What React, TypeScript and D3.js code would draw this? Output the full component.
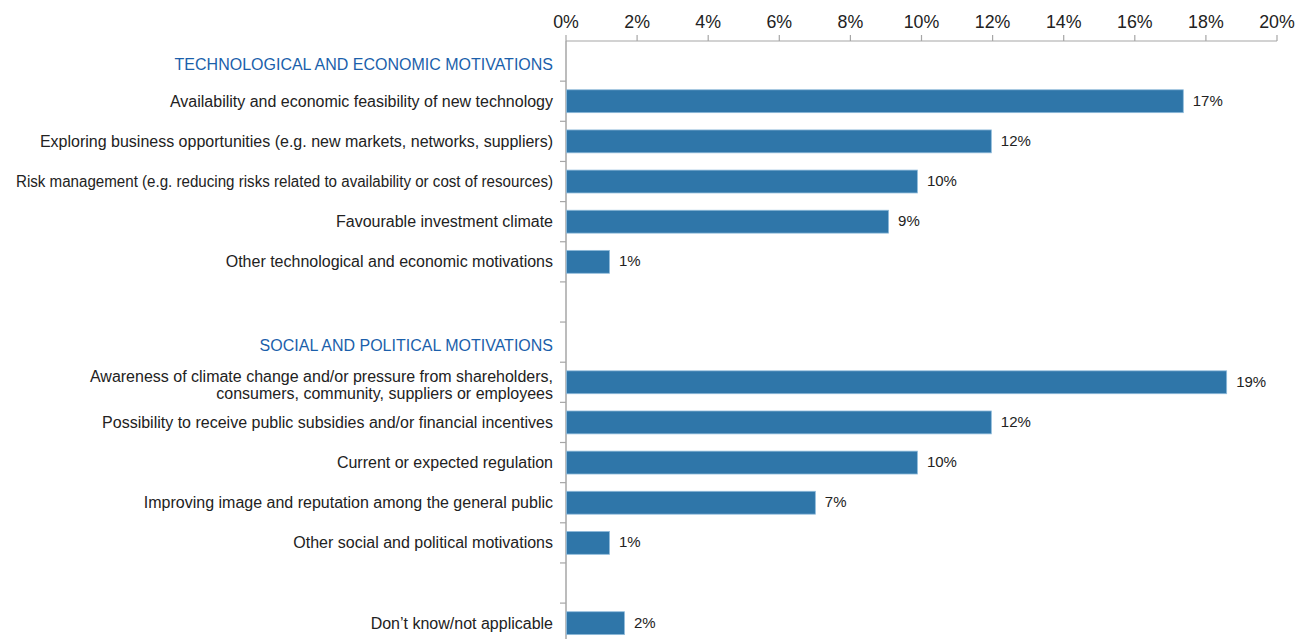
import React from "react";
import * as d3 from "d3";

const categories: string[] = [
  "TECHNOLOGICAL AND ECONOMIC MOTIVATIONS",
  "Availability and economic feasibility of new technology",
  "Exploring business opportunities (e.g. new markets, networks, suppliers)",
  "Risk management (e.g. reducing risks related to availability or cost of resources)",
  "Favourable investment climate",
  "Other technological and economic motivations",
  "gap1",
  "SOCIAL AND POLITICAL MOTIVATIONS",
  "Awareness of climate change and/or pressure from shareholders,\nconsumers, community, suppliers or employees",
  "Possibility to receive public subsidies and/or financial incentives",
  "Current or expected regulation",
  "Improving image and reputation among the general public",
  "Other social and political motivations",
  "gap2",
  "Don\u2019t know/not applicable",
];

const headers: string[] = [
  "TECHNOLOGICAL AND ECONOMIC MOTIVATIONS",
  "SOCIAL AND POLITICAL MOTIVATIONS",
];

const values: (number | null)[] = [
  null, 17.35, 11.95, 9.87, 9.06, 1.21, null, null, 18.57, 11.95, 9.87, 7.0, 1.21, null, 1.63,
];

const valueLabels: (string | null)[] = [
  null, "17%", "12%", "10%", "9%", "1%", null, null, "19%", "12%", "10%", "7%", "1%", null, "2%",
];

const xTicks: number[] = [0, 2, 4, 6, 8, 10, 12, 14, 16, 18, 20];

const W = 1303;
const H = 639;
const left = 566;
const right = 1277;
const top = 41;
const step = 40.15;

export default function App() {
  const x = d3.scaleLinear().domain([0, 20]).range([left, right]);
  const y = d3
    .scaleBand<string>()
    .domain(categories)
    .range([top, top + step * categories.length])
    .paddingInner(0.43)
    .paddingOuter(0.215);
  const band = d3.scaleBand<string>().domain(categories).range([top, top + step * categories.length]);
  const font = "'Liberation Sans', Arial, sans-serif";
  const axisColor = "#a6a6a6";

  return (
    <svg
      width={W}
      height={H}
      style={{ position: "absolute", left: 0, top: 0, background: "#fff" }}
      fontFamily={font}
    >
      {/* top axis */}
      <line x1={left} x2={right} y1={top} y2={top} stroke={axisColor} strokeWidth={1.2} />
      {xTicks.map((t) => (
        <g key={t}>
          <line x1={x(t)} x2={x(t)} y1={top - 6} y2={top} stroke={axisColor} strokeWidth={1.2} />
          <text x={x(t)} y={28} textAnchor="middle" fontSize={17.8} fill="#222">
            {t}%
          </text>
        </g>
      ))}
      {/* left axis */}
      <line x1={left} x2={left} y1={top} y2={H} stroke={axisColor} strokeWidth={1.5} />
      {categories.map((c, i) =>
        i === 0 ? null : (
          <line
            key={"tk" + i}
            x1={left - 6}
            x2={left}
            y1={band(c)!}
            y2={band(c)!}
            stroke={axisColor}
            strokeWidth={1.2}
          />
        )
      )}
      {/* bars */}
      {categories.map((c, i) => {
        const v = values[i];
        if (v == null) return null;
        return (
          <g key={"b" + i}>
            <rect
              x={x(0) + 0.5}
              y={y(c)!}
              width={x(v) - x(0)}
              height={y.bandwidth()}
              fill="#2f76a9"
              stroke="#8fbbdb"
              strokeWidth={0.8}
            />
            <text
              x={x(v) + 10}
              y={y(c)! + y.bandwidth() / 2 + 0.5}
              dominantBaseline="middle"
              fontSize={15}
              fill="#222"
            >
              {valueLabels[i]}
            </text>
          </g>
        );
      })}
      {/* category labels */}
      {categories.map((c, i) => {
        if (c.startsWith("gap")) return null;
        const isHeader = headers.includes(c);
        const lines = c.split("\n");
        const cy = band(c)! + band.bandwidth() / 2 + (isHeader || lines.length > 1 ? 3 : 0);
        const isRisk = c.startsWith("Risk management");
        return (
          <text
            key={"l" + i}
            x={553}
            y={cy - ((lines.length - 1) * 17) / 2}
            textAnchor="end"
            fontSize={16}
            fill={isHeader ? "#1b5fab" : "#222"}
            {...(isRisk ? { textLength: 537, lengthAdjust: "spacingAndGlyphs" } : {})}
          >
            {lines.map((ln, j) => (
              <tspan key={j} x={553} dy={j === 0 ? "0.35em" : 17}>
                {ln}
              </tspan>
            ))}
          </text>
        );
      })}
    </svg>
  );
}
